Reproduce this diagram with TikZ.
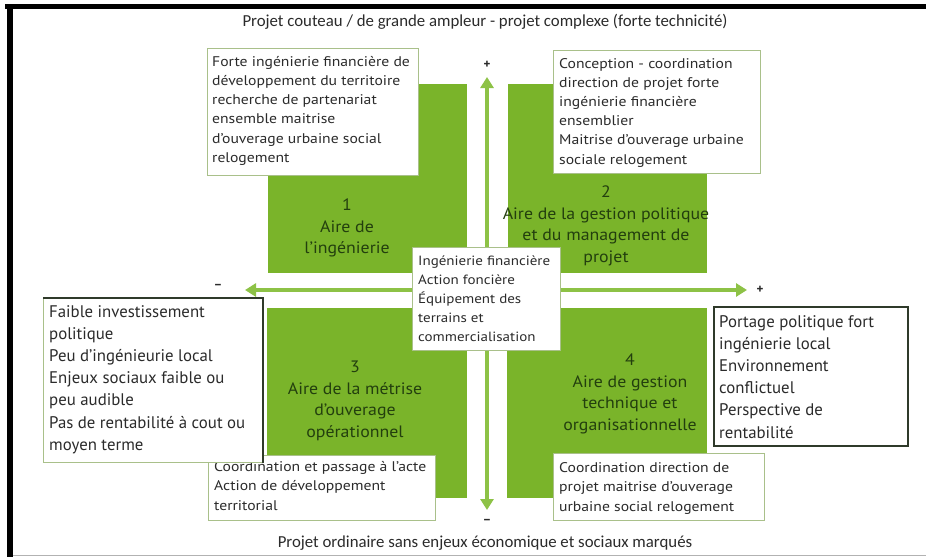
\documentclass[tikz,border=0pt]{standalone}
\usepackage{fontspec}
\setmainfont{PT Sans}
\newfontfamily\labelfont{Carlito}
\newfontfamily\notefont[FakeStretch=1.12]{PT Sans}
\newfontfamily\areafont[FakeStretch=1.08]{PT Sans}
\usetikzlibrary{arrows.meta}
\definecolor{sqgreen}{HTML}{7AB42A}
\definecolor{arrgreen}{HTML}{8DC246}
\definecolor{sqtext}{HTML}{233F0E}
\definecolor{boxline}{HTML}{A9C08A}
\definecolor{darkline}{HTML}{2F3A2A}
\definecolor{txt}{HTML}{2B2B2B}
\begin{document}
\begin{tikzpicture}[x=1pt,y=-1pt,
  sq/.style={fill=sqgreen, draw=none, anchor=north west, inner sep=0pt},
  notebox/.style={draw=boxline, line width=1.2pt, fill=white, anchor=north west, inner sep=0pt},
  bigbox/.style={notebox, draw=darkline, line width=2pt},
  notetext/.style={anchor=north west, align=left, inner sep=0pt, text=txt,
    font=\notefont\fontsize{14}{19.2}\selectfont},
  bigtext/.style={notetext, font=\fontsize{16.8}{22.2}\selectfont},
  area/.style={text=sqtext, align=center, inner sep=0pt,
    font=\areafont\fontsize{16.5}{21.5}\selectfont},
  axis/.style={draw=arrgreen, line width=4pt,
    {Triangle[length=11pt,width=13pt]}-{Triangle[length=11pt,width=13pt]}},
  sign/.style={text=txt, inner sep=0pt, font=\fontsize{13}{13}\selectfont\bfseries},
  caption/.style={text=txt, inner sep=0pt, font=\labelfont\fontsize{16.8}{16.8}\selectfont}]

\useasboundingbox (0,0) rectangle (926,557);
\fill[white] (0,0) rectangle (926,557);

% frame
\fill[black] (5,3.5) rectangle (926,9);
\fill[black] (7,3.5) rectangle (13,557);
\draw[gray!60, line width=1pt] (13,555.5) -- (926,555.5);

% the four areas
\node[sq, minimum width=199pt, minimum height=189pt] (sq1) at (268,84) {};
\node[sq, minimum width=199pt, minimum height=189pt] (sq2) at (508,84) {};
\node[sq, minimum width=200pt, minimum height=190pt] (sq3) at (267,308) {};
\node[sq, minimum width=200pt, minimum height=190pt] (sq4) at (507,308) {};

\node[area] (a1) at (347,228) {1\\Aire de\\l’ingénierie};
\node[area] (a2) at (606,226) {2\\Aire de la gestion politique\\et du management de\\projet};
\node[area] (a3) at (355,401) {3\\Aire de la métrise\\d’ouverage\\opérationnel};
\node[area] (a4) at (630,394) {4\\Aire de gestion\\technique et\\organisationnelle};

% axes
\coordinate (hl) at (245,290);
\coordinate (hr) at (747,290);
\coordinate (vt) at (487,77);
\coordinate (vb) at (487,510);
\draw[axis] (hl) -- (hr);
\draw[axis] (vt) -- (vb);

\node[sign] (pt) at (487,65) {+};
\node[sign] (mb) at (487,522) {−};
\node[sign] (ml) at (218,287) {−};
\node[sign] (pr) at (760,290) {+};

% captions
\node[caption] (top) at (485,22) {Projet couteau / de grande ampleur - projet complexe (forte technicité)};
\node[caption] (bot) at (485,543) {Projet ordinaire sans enjeux économique et sociaux marqués};

% small notes
\node[notebox, minimum width=211pt, minimum height=127pt] (btl) at (207,48) {};
\node[notetext] (ntl) at ([shift={(5,8)}]btl.north west)
  {Forte ingénierie financière de\\développement du territoire\\recherche de partenariat\\ensemble maitrise\\d’ouverage urbaine social\\relogement};
\node[notebox, minimum width=207pt, minimum height=123pt] (btr) at (553,50) {};
\node[notetext] (ntr) at ([shift={(6,8)}]btr.north west)
  {Conception - coordination\\direction de projet forte\\ingénierie financière\\ensemblier\\Maitrise d’ouverage urbaine\\sociale relogement};
\node[notebox, minimum width=148pt, minimum height=103pt] (bc) at (412,247) {};
\node[notetext, font=\notefont\fontsize{13.4}{18.8}\selectfont] (nc) at ([shift={(6,9)}]bc.north west)
  {Ingénierie financière\\Action foncière\\Équipement des\\terrains et\\commercialisation};
\node[notebox, minimum width=227pt, minimum height=65pt] (bbl) at (208,455) {};
\node[notetext, font=\notefont\fontsize{14}{19.4}\selectfont] (nbl) at ([shift={(6,6)}]bbl.north west)
  {Coordination et passage à l’acte\\Action de développement\\territorial};
\node[notebox, minimum width=211pt, minimum height=67pt] (bbr) at (553,453) {};
\node[notetext, font=\notefont\fontsize{14}{19.5}\selectfont] (nbr) at ([shift={(6,9)}]bbr.north west)
  {Coordination direction de\\projet maitrise d’ouverage\\urbaine social relogement};

% large notes
\node[notebox, minimum width=219pt, minimum height=164pt] (bl) at (43,298) {};
\draw[darkline, line width=2.2pt] (bl.north west) -- (bl.north east) -- (bl.south east);
\node[bigtext] (nl) at ([shift={(6,7)}]bl.north west)
  {Faible investissement\\politique\\Peu d’ingénieurie local\\Enjeux sociaux faible ou\\peu audible\\Pas de rentabilité à cout ou\\moyen terme};
\node[bigbox, minimum width=194pt, minimum height=139pt] (br) at (713,306) {};
\node[bigtext] (nr) at ([shift={(6,9)}]br.north west)
  {Portage politique fort\\ingénierie local\\Environnement\\conflictuel\\Perspective de\\rentabilité};
\end{tikzpicture}
\end{document}
